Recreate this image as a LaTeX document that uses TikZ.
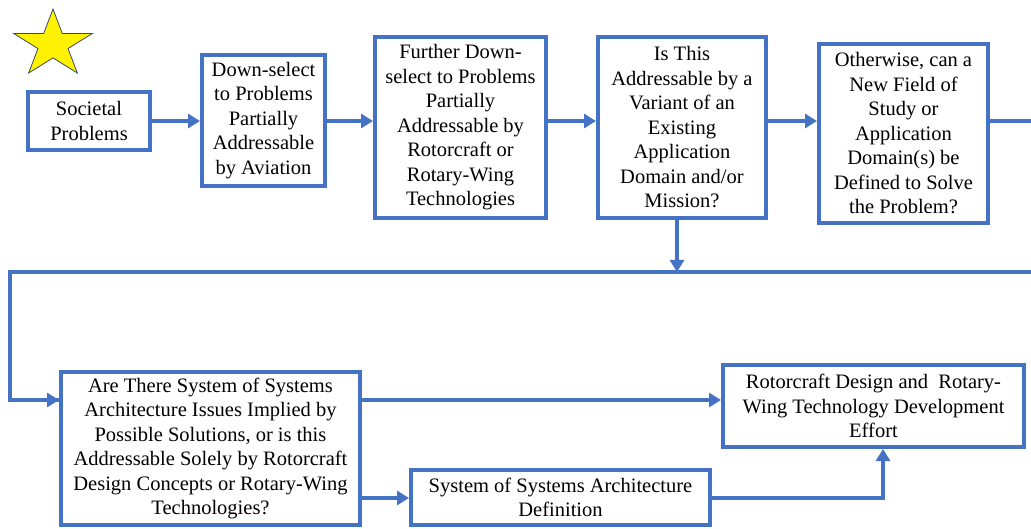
\documentclass[tikz,border=0pt]{standalone}
\usepackage{fontspec}
\setmainfont{Liberation Serif}
\usetikzlibrary{arrows.meta}
\definecolor{flowblue}{HTML}{4472C4}
\definecolor{staredge}{HTML}{3A4A6A}
\begin{document}
\begin{tikzpicture}[x=1pt,y=-1pt,
  stepbox/.style={draw=flowblue, line width=4pt, fill=white, inner sep=0pt,
    align=center, font=\fontsize{20.5pt}{24.5pt}\selectfont},
  flow/.style={draw=flowblue, line width=4pt},
  arr/.style={flow, -{Triangle[length=12pt,width=14pt]}}]
\useasboundingbox (0,0) rectangle (1031,529);

% star marker
\draw[fill=yellow, draw=staredge, line width=0.8pt, xscale=1.17]
  (53/1.17,44.4) ++(90:-35.4)
  \foreach \k in {1,...,9} {
    -- ({53/1.17+(mod(\k,2)==0 ? 35.4 : 13.5)*cos(90+36*\k)},
        {44.4-(mod(\k,2)==0 ? 35.4 : 13.5)*sin(90+36*\k)})
  } -- cycle;

% row guides
\coordinate (r1) at (0,121);
\coordinate (r2) at (0,400);
\coordinate (r3) at (0,498);
\coordinate (dropx) at (677,0);
\coordinate (risex) at (883,0);
\coordinate (exitR) at (1031,121);
\coordinate (busR) at (1031,272);
\coordinate (busL) at (10,272);

% top row
\node[stepbox, minimum width=122pt, minimum height=58pt] (soc) at (89,121)
  {Societal\\Problems};
\node[stepbox, minimum width=123pt, minimum height=131pt] (ds) at (263.5,120.5)
  {Down-select\\to Problems\\Partially\\Addressable\\by Aviation};
\node[stepbox, minimum width=171pt, minimum height=181pt] (fds) at (460.5,127.5)
  {Further Down-\\select to Problems\\Partially\\Addressable by\\Rotorcraft or\\Rotary-Wing\\Technologies};
\node[stepbox, minimum width=168pt, minimum height=181pt] (var) at (682,127.5)
  {Is This\\Addressable by a\\Variant of an\\Existing\\Application\\Domain and/or\\Mission?};
\node[stepbox, minimum width=169pt, minimum height=179pt] (newf) at (903.5,133.5)
  {Otherwise, can a\\New Field of\\Study or\\Application\\Domain(s) be\\Defined to Solve\\the Problem?};

% bottom row
\node[stepbox, minimum width=299pt, minimum height=153pt] (sos) at (210.5,448.5)
  {Are There System of Systems\\Architecture Issues Implied by\\Possible Solutions, or is this\\Addressable Solely by Rotorcraft\\Design Concepts or Rotary-Wing\\Technologies?};
\node[stepbox, minimum width=301pt, minimum height=82pt] (rot) at (873.5,406)
  {Rotorcraft Design and~~Rotary-\\Wing Technology Development\\Effort};
\node[stepbox, minimum width=299pt, minimum height=55pt] (arch) at (560.5,497.5)
  {System of Systems Architecture\\Definition};

% connectors
\draw[arr] (soc.east |- r1) -- (ds.west |- r1);
\draw[arr] (ds.east |- r1) -- (fds.west |- r1);
\draw[arr] (fds.east |- r1) -- (var.west |- r1);
\draw[arr] (var.east |- r1) -- (newf.west |- r1);
\draw[flow] (newf.east |- r1) -- (exitR);
\draw[arr] (dropx |- var.south) -- (dropx |- busL);
\draw[flow, line join=miter] (busR) -- (busL) -- (busL |- r2) -- (sos.west |- r2);
\draw[arr] (busL |- r2) -- (sos.west |- r2);
\draw[arr] (sos.east |- r2) -- (rot.west |- r2);
\draw[arr] (sos.east |- r3) -- (arch.west |- r3);
\draw[arr, line join=miter] (arch.east |- r3) -- (risex |- r3) -- (risex |- rot.south);
\end{tikzpicture}
\end{document}
